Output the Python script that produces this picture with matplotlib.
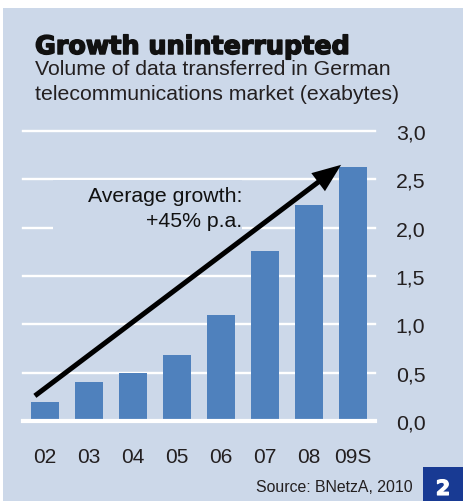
import matplotlib
matplotlib.use("Agg")
import matplotlib.pyplot as plt
from matplotlib.patches import Rectangle
import matplotlib.patheffects as pe

# Data: volume of data transferred (exabytes)
years = ["02", "03", "04", "05", "06", "07", "08", "09S"]
volume = [0.2, 0.4, 0.5, 0.68, 1.1, 1.76, 2.23, 2.63]
y_ticks = [0.0, 0.5, 1.0, 1.5, 2.0, 2.5, 3.0]

title = "Growth uninterrupted"
subtitle = ["Volume of data transferred in German",
            "telecommunications market (exabytes)"]
note = ["Average growth:", "+45% p.a."]
source = "Source: BNetzA, 2010"
badge = "2"

# Trend arrow endpoints in data coordinates (start, tip)
arrow_start = (-0.23, 0.26)
arrow_tip = (6.73, 2.65)

W, H = 463, 502
BG = "#ccd8e9"
BAR = "#4f81bd"
INK = "#231f20"
FONT = "Liberation Sans"

fig = plt.figure(figsize=(W / 100, H / 100), dpi=100, facecolor="white")


def fx(px):
    return px / W


def fy(py):
    return 1 - py / H


# Panel background
fig.patches.append(Rectangle((fx(3), 0), 1 - fx(3), fy(9), transform=fig.transFigure,
                             facecolor=BG, edgecolor="none", zorder=-10))

# Badge
fig.patches.append(Rectangle((fx(423), 0), 1 - fx(423), fy(468), transform=fig.transFigure,
                             facecolor="#183a93", edgecolor="none", zorder=1))
fig.text(fx(443), fy(490), badge, color="white", fontsize=15, fontweight="bold",
         family="DejaVu Sans", ha="center", va="center",
         path_effects=[pe.withStroke(linewidth=0.8, foreground="white")])

# Title and subtitle
fig.text(fx(35), fy(55), title, fontsize=18.3, fontweight="bold", family="DejaVu Sans",
         color="#111111", va="baseline", ha="left",
         path_effects=[pe.withStroke(linewidth=1.1, foreground="#111111")])
for i, line in enumerate(subtitle):
    fig.text(fx(35), fy(75 + 25 * i), line, fontsize=15.3, family=FONT, color=INK,
             va="baseline", ha="left")

# Source
fig.text(fx(413), fy(492.5), source, fontsize=11.4, family=FONT, color=INK,
         va="baseline", ha="right")

# Chart axes
ax = fig.add_axes([fx(23), fy(422), fx(375) - fx(23), fy(132) - fy(422)])
ax.set_facecolor("none")
x = list(range(len(years)))
ax.bar(x, volume, width=0.636, color=BAR, zorder=3)

for t in y_ticks:
    ax.axhline(t, color="white", lw=3.0 if t == 0 else 1.7, zorder=4 if t == 0 else 1,
               clip_on=False)

ax.set_xlim(-0.5, len(years) - 0.5)
ax.set_ylim(0, 3.0)
for s in ax.spines.values():
    s.set_visible(False)

ax.set_xticks(x)
ax.set_xticklabels(years, fontsize=15, family=FONT, color=INK)
ax.tick_params(axis="x", length=0, pad=19)
ax.yaxis.tick_right()
ax.set_yticks(y_ticks)
ax.set_yticklabels([f"{t:.1f}".replace(".", ",") for t in y_ticks],
                   fontsize=15.3, family=FONT, color=INK)
ax.tick_params(axis="y", length=0, pad=15)

# Box behind the growth note, above the gridlines
ax.add_patch(Rectangle((fx(53), fy(232)), fx(242) - fx(53), fy(181) - fy(232),
                       transform=fig.transFigure, facecolor=BG, edgecolor="none",
                       zorder=2, clip_on=False))
ax.text(fx(242), fy(201.7), note[0], transform=fig.transFigure, fontsize=15.3,
        family=FONT, color="#111111", ha="right", va="baseline", zorder=6)
ax.text(fx(242), fy(226.7), note[1], transform=fig.transFigure, fontsize=15.3,
        family=FONT, color="#111111", ha="right", va="baseline", zorder=6)

# Trend arrow
ax.annotate("", xy=arrow_tip, xytext=arrow_start, annotation_clip=False,
            arrowprops=dict(arrowstyle="-|>,head_length=1.4,head_width=0.55",
                            lw=3.6, color="black", mutation_scale=10,
                            shrinkA=0, shrinkB=0, capstyle="butt", joinstyle="miter"),
            zorder=7)

fig.savefig("out.png", dpi=100, facecolor="white")
